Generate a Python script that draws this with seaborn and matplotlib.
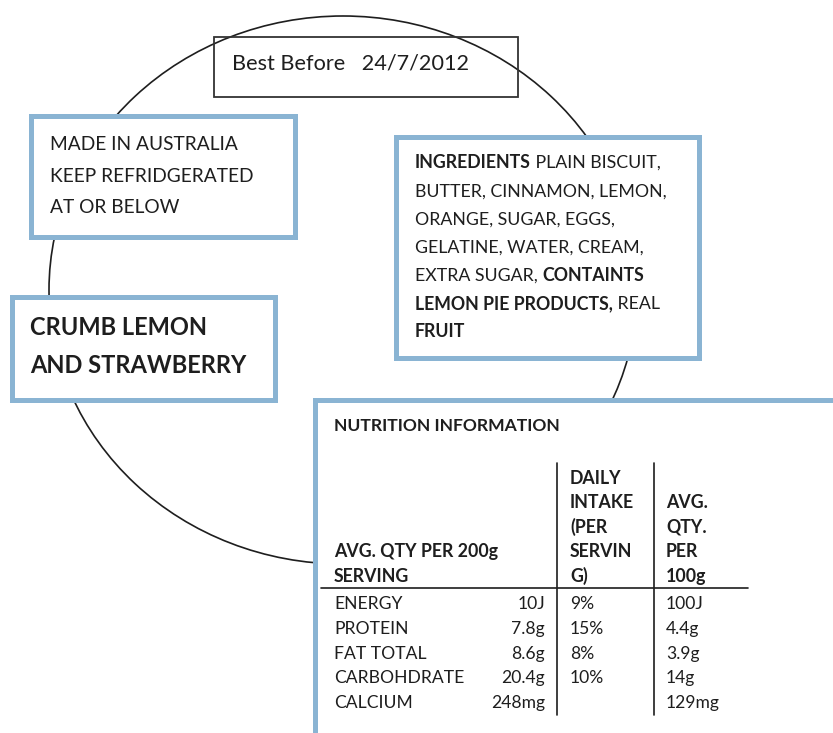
import matplotlib
matplotlib.use("Agg")
import matplotlib.pyplot as plt
import seaborn as sns
from matplotlib.patches import Rectangle, Ellipse

# label content
best_before = "Best Before   24/7/2012"
origin_lines = ["MADE IN AUSTRALIA", "KEEP REFRIDGERATED", "AT OR BELOW"]
product_lines = ["CRUMB LEMON", "AND STRAWBERRY"]
# each line is a list of (text, bold) pieces
ingredient_lines = [
    [("INGREDIENTS", True), (" PLAIN BISCUIT,", False)],
    [("BUTTER, CINNAMON, LEMON,", False)],
    [("ORANGE, SUGAR, EGGS,", False)],
    [("GELATINE, WATER, CREAM,", False)],
    [("EXTRA SUGAR, ", False), ("CONTAINTS", True)],
    [("LEMON PIE PRODUCTS,", True), (" REAL", False)],
    [("FRUIT", True)],
]
nutrition_title = "NUTRITION INFORMATION"
head_serving = ["AVG. QTY PER 200g", "SERVING"]
head_daily = ["DAILY", "INTAKE", "(PER", "SERVIN", "G)"]
head_100g = ["AVG.", "QTY.", "PER", "100g"]
nutrients = ["ENERGY", "PROTEIN", "FAT TOTAL", "CARBOHDRATE", "CALCIUM"]
per_serving = ["10J", "7.8g", "8.6g", "20.4g", "248mg"]
daily_intake = ["9%", "15%", "8%", "10%", ""]
per_100g = ["100J", "4.4g", "3.9g", "14g", "129mg"]

sns.set_theme(style="white")
plt.rcParams['font.family'] = ['Lato', 'DejaVu Sans']

ink = '#1e1e1e'
blue = '#8ab4d3'

fig = plt.figure(figsize=(8.33, 7.33), dpi=100)
ax = fig.add_axes([0, 0, 1, 1])
ax.set_xlim(0, 833)
ax.set_ylim(733, 0)
ax.axis('off')

# the big circle behind everything
ax.add_patch(Ellipse((343, 290), 588, 548, fill=False, ec=ink, lw=1.2, zorder=1))

# best before box (open, circle shows through)
ax.add_patch(Rectangle((214, 37), 304, 60, fill=False, ec='#333333', lw=1.3, zorder=3))
ax.text(232, 69, best_before, fontsize=15.6, color=ink, va='baseline', zorder=4)

def blue_box(x0, y0, x1, y1):
    ax.add_patch(Rectangle((x0, y0), x1 - x0, y1 - y0, fc='white', ec=blue, lw=3.6, zorder=2))

blue_box(31, 116, 295, 237)
for i, line in enumerate(origin_lines):
    ax.text(50, 150 + i * 31.5, line, fontsize=13.8, color=ink, va='baseline', zorder=4)

blue_box(12, 297, 275, 400)
for i, line in enumerate(product_lines):
    ax.text(30, 335 + i * 38, line, fontsize=17, fontweight='bold', color=ink, va='baseline', zorder=4)

blue_box(396, 137, 699, 358)
for i, parts in enumerate(ingredient_lines):
    prev = None
    for txt, bold in parts:
        w = 'bold' if bold else 'normal'
        if prev is None:
            prev = ax.text(415, 168 + i * 28.2, txt, fontsize=12.8, fontweight=w, color=ink,
                           va='baseline', zorder=4)
        else:
            prev = ax.annotate(txt, xy=(1, 0), xycoords=prev, fontsize=12.8, fontweight=w,
                               color=ink, va='bottom', ha='left', zorder=4)

# nutrition panel runs off the page
blue_box(315, 400, 900, 800)
ax.text(334, 431, nutrition_title, fontsize=12.6, fontweight='bold', color=ink, va='baseline', zorder=4)

hstep = 24.6
for i, line in enumerate(head_serving):
    ax.text(334, 557 + i * hstep, line, fontsize=12.8, fontweight='bold', color=ink, va='baseline', zorder=4)
for i, line in enumerate(head_daily):
    ax.text(570, 483.5 + i * hstep, line, fontsize=12.8, fontweight='bold', color=ink, va='baseline', zorder=4)
for i, line in enumerate(head_100g):
    ax.text(666, 508 + i * hstep, line, fontsize=12.8, fontweight='bold', color=ink, va='baseline', zorder=4)

ax.plot([321, 748], [588, 588], color=ink, lw=1.2, zorder=4)
ax.plot([557, 557], [463, 715], color=ink, lw=1.2, zorder=4)
ax.plot([654, 654], [463, 715], color=ink, lw=1.2, zorder=4)

rstep = 24.8
for i, name in enumerate(nutrients):
    y = 609 + i * rstep
    ax.text(334, y, name, fontsize=12.6, color=ink, va='baseline', zorder=4)
    ax.text(545, y, per_serving[i], fontsize=12.6, color=ink, va='baseline', ha='right', zorder=4)
    ax.text(570, y, daily_intake[i], fontsize=12.6, color=ink, va='baseline', zorder=4)
    ax.text(666, y, per_100g[i], fontsize=12.6, color=ink, va='baseline', zorder=4)

fig.savefig('out.png', dpi=100, facecolor='white')
